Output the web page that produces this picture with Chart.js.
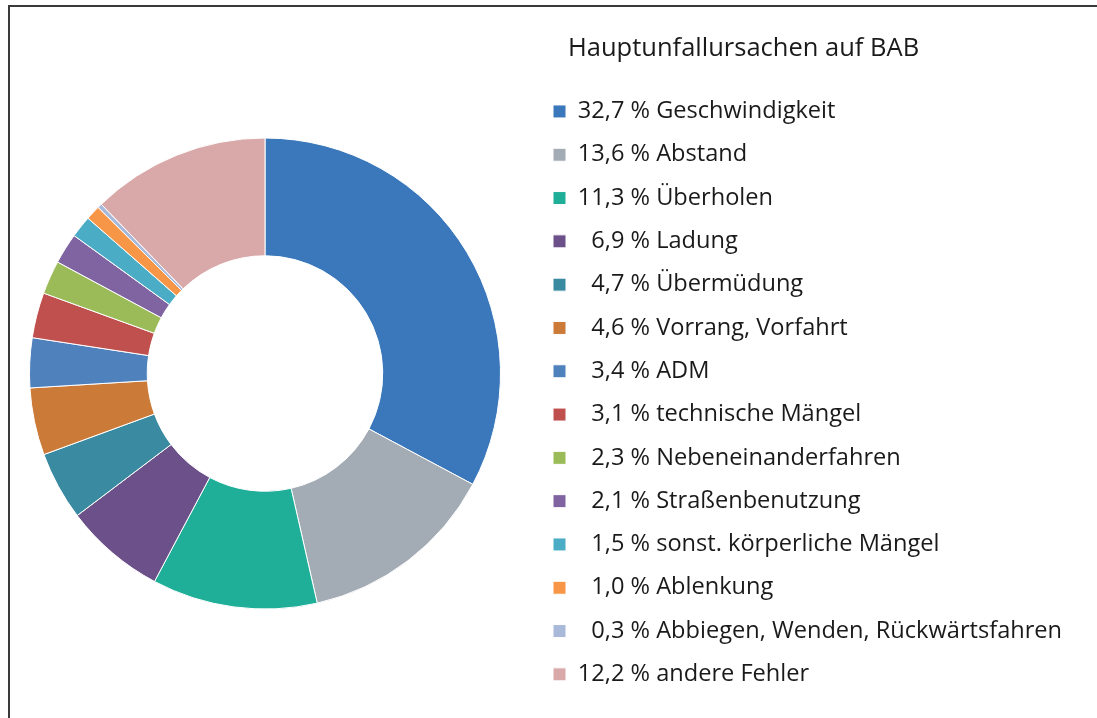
<!DOCTYPE html>
<html><head><meta charset="utf-8">
<script src="https://cdn.jsdelivr.net/npm/chart.js@4"></script>
<style>
html,body{margin:0;padding:0;background:#fff;overflow:hidden}
#wrap{position:relative;width:1097px;height:718px}
#frame{position:absolute;left:8px;top:5px;width:1200px;height:800px;border:2px solid #3a3a3a;box-sizing:border-box}
canvas{position:absolute;left:0;top:0}
</style></head><body>
<div id="wrap"><div id="frame"></div><canvas id="c" width="1097" height="718"></canvas></div>
<script>
const chartTitle = 'Hauptunfallursachen auf BAB';
const categories = ['Geschwindigkeit','Abstand','Überholen','Ladung','Übermüdung','Vorrang, Vorfahrt','ADM','technische Mängel','Nebeneinanderfahren','Straßenbenutzung','sonst. körperliche Mängel','Ablenkung','Abbiegen, Wenden, Rückwärtsfahren','andere Fehler'];
const values = [32.7,13.6,11.3,6.9,4.7,4.6,3.4,3.1,2.3,2.1,1.5,1.0,0.3,12.2];
const colors = ['#3A78BB','#A3ABB5','#1FAF98','#6B5089','#3A8BA1','#CC7A38','#4F81BD','#C0504D','#9BBB59','#8064A2','#4BACC6','#F79646','#A9B9DA','#D9A9A9'];

const FONT = '"Open Sans", "Noto Sans", sans-serif';
const TITLE_SIZE = 25.5;
const LABEL_SIZE = 23.6;
const labels = categories.map((c, i) => {
  const v = values[i].toFixed(1).replace('.', ',');
  return (values[i] < 10 ? '\u2007' : '') + v + ' % ' + c;
});

const legendPlacer = {
  id: 'legendPlacer',
  afterLayout(chart) {
    const lg = chart.legend;
    if (!lg) return;
    lg.update(1097, 718, {left: 0, top: 0, right: 0, bottom: 0});
    const left = 553 - lg.options.labels.padding;
    const ctx = chart.ctx;
    ctx.save();
    ctx.font = TITLE_SIZE + 'px ' + FONT;
    const tw = ctx.measureText(chartTitle).width;
    ctx.restore();
    const width = 2 * (568 + tw / 2 - left);
    lg.left = left; lg.width = width; lg.right = 1097;
    lg.top = 20; lg.bottom = 718;
  }
};

new Chart(document.getElementById('c'), {
  type: 'doughnut',
  data: {
    labels: labels,
    datasets: [{
      data: values,
      backgroundColor: colors,
      borderColor: '#ffffff',
      borderWidth: 1
    }]
  },
  options: {
    responsive: false,
    devicePixelRatio: 1,
    animation: false,
    events: [],
    cutout: '50%',
    layout: {padding: {left: 29, right: 596, top: 137, bottom: 108}},
    plugins: {
      tooltip: {enabled: false},
      legend: {
        display: true,
        position: 'chartArea',
        align: 'start',
        title: {
          display: true,
          text: chartTitle,
          position: 'center',
          color: '#1a1a1a',
          font: {family: FONT, size: TITLE_SIZE},
          padding: {top: 16.25, bottom: 13.1}
        },
        labels: {
          boxWidth: 13,
          boxHeight: 13,
          padding: 19.7,
          color: '#1a1a1a',
          font: {family: FONT, size: LABEL_SIZE}
        }
      }
    }
  },
  plugins: [legendPlacer]
});
</script>
</body></html>
